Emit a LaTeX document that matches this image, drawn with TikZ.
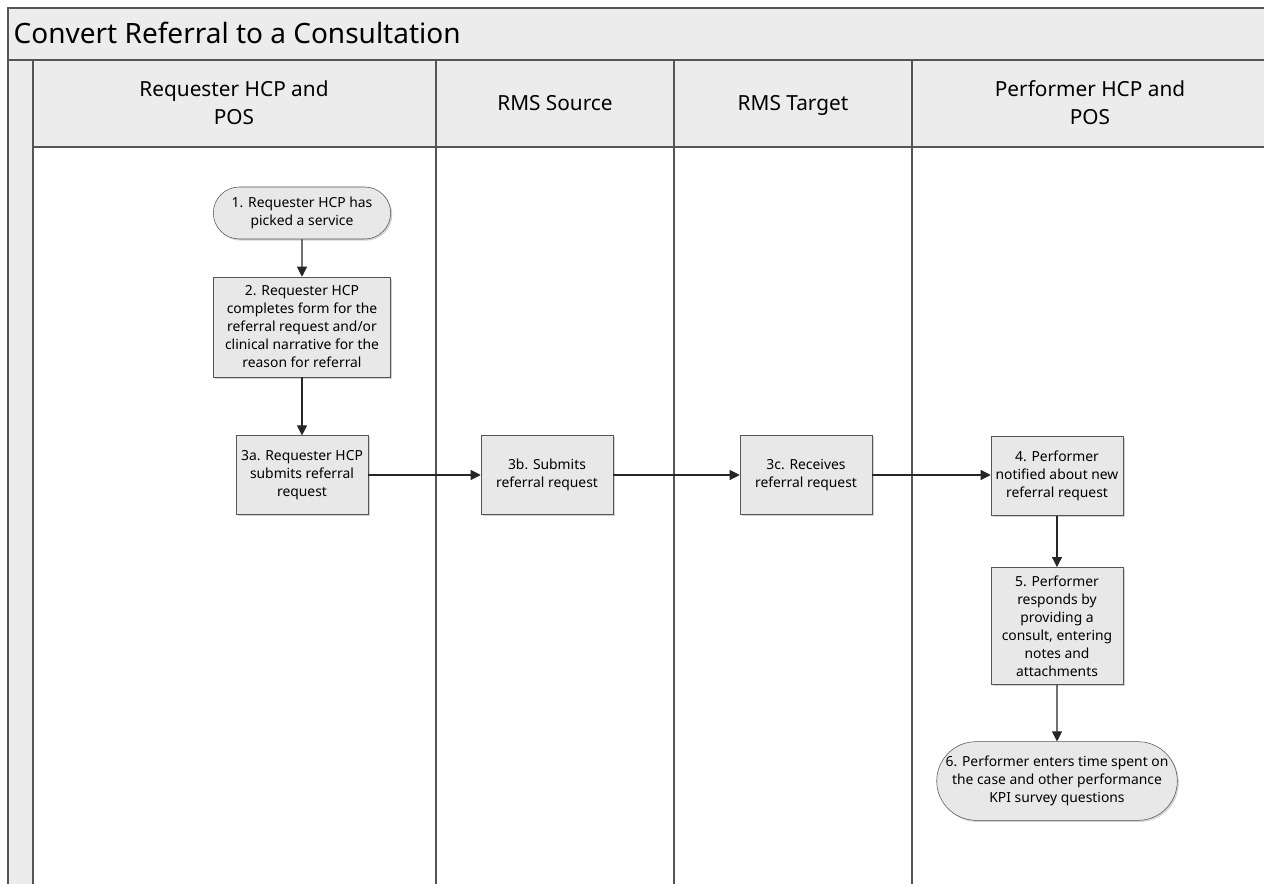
\documentclass[tikz,border=0pt]{standalone}
\usepackage{fontspec}
\setmainfont{Noto Sans}
\usetikzlibrary{positioning,arrows.meta,shapes.misc,shadows}
\definecolor{lanegray}{RGB}{236,236,236}
\definecolor{boxgray}{RGB}{232,232,232}
\definecolor{linegray}{RGB}{85,85,85}

\begin{document}
\begin{tikzpicture}[x=0.75pt,y=-0.75pt,font=\fontsize{10.4}{13.5}\selectfont,
  lane/.style={draw=linegray,fill=lanegray,line width=0.8pt},
  laneline/.style={draw=linegray,line width=0.8pt},
  header/.style={align=center,font=\fontsize{15.6}{21}\selectfont},
  oneline/.style={header,text height=0.75em,text depth=0.25em},
  stepbox/.style={draw=linegray,fill=boxgray,align=center,inner sep=2pt,
    drop shadow={shadow xshift=1.2pt,shadow yshift=-1.2pt,opacity=0.35}},
  endbox/.style={stepbox,rounded rectangle,inner xsep=0pt},
  flow/.style={draw=black!85,line width=0.8pt,-{Triangle[length=7.5pt,width=7.5pt]}}]
\useasboundingbox (0,0) rectangle (1264,884);
% pool and lanes
\fill[white] (0,0) rectangle (1264,884);
\draw[lane] (8,890) -- (8,8) -- (1272,8) -- (1272,60) -- (8,60);
\draw[lane] (8,60) rectangle (33,890);
\draw[lane] (33,60) rectangle (1272,147);
\foreach \x in {436,674,912}
  \draw[laneline] (\x,60) -- (\x,890);
\node[anchor=west,font=\fontsize{21}{26}\selectfont] (title) at (9,33) {Convert Referral to a Consultation};
\node[header] (hreq) at (234,103) {Requester HCP and\\POS};
\node[oneline] (hsrc) at (555,107) {RMS Source};
\node[oneline] (htgt) at (793,107) {RMS Target};
\node[header] (hperf) at (1090,103) {Performer HCP and\\POS};
% steps
\node[endbox,minimum width=133pt,minimum height=39pt] (s1) at (302,213) {1. Requester HCP has\\picked a service};
\node[stepbox,minimum width=133pt,minimum height=75pt] (s2) at (302,327) {2. Requester HCP\\completes form for the\\referral request and/or\\clinical narrative for the\\reason for referral};
\node[stepbox,minimum width=99pt,minimum height=59pt] (s3a) at (302,475) {3a. Requester HCP\\submits referral\\request};
\node[stepbox,minimum width=99pt,minimum height=59pt] (s3b) at (547,475) {3b. Submits\\referral request};
\node[stepbox,minimum width=99pt,minimum height=59pt] (s3c) at (806,475) {3c. Receives\\referral request};
\node[stepbox,minimum width=99pt,minimum height=59pt] (s4) at (1057,476) {4. Performer\\notified about new\\referral request};
\node[stepbox,minimum width=99pt,minimum height=88pt] (s5) at (1057,626) {5. Performer\\responds by\\providing a\\consult, entering\\notes and\\attachments};
\node[endbox,minimum width=178pt,minimum height=59pt] (s6) at (1057,781) {6. Performer enters time spent on\\the case and other performance\\KPI survey questions};
% connectors
\draw[flow] (s1) -- (s2);
\draw[flow] (s2) -- (s3a);
\draw[flow] (s3a) -- (s3b);
\draw[flow] (s3b) -- (s3c);
\draw[flow] (s3c.east) -- (s3c.east -| s4.west);
\draw[flow] (s4) -- (s5);
\draw[flow] (s5) -- (s6);
\end{tikzpicture}
\end{document}
